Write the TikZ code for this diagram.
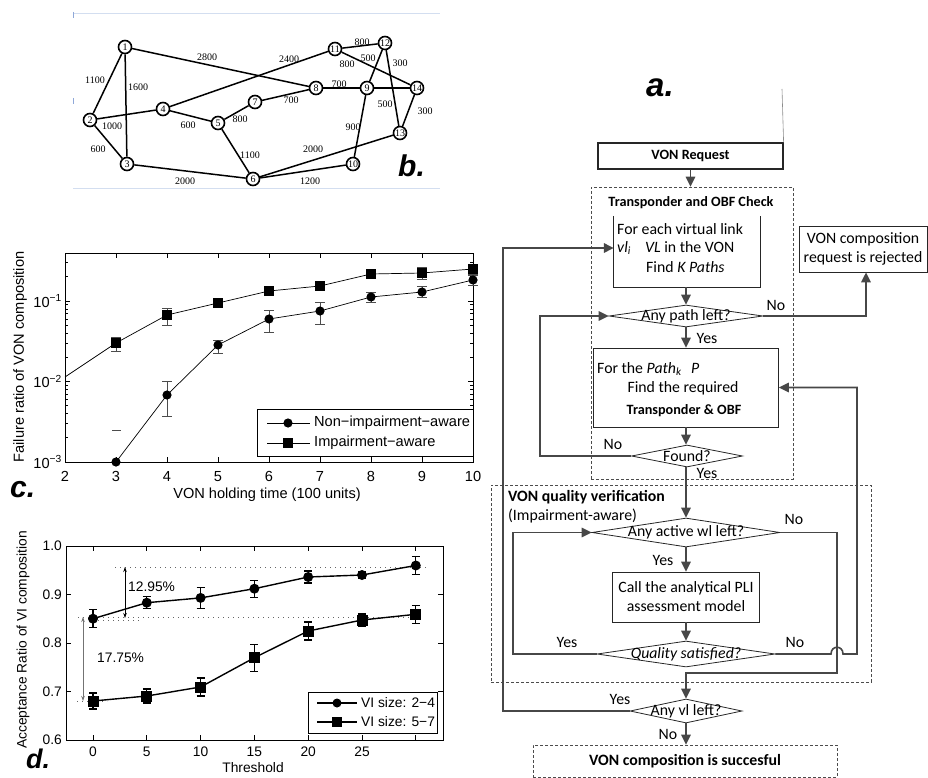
\documentclass[tikz,border=0pt]{standalone}
\usepackage{fontspec}
\setmainfont{Liberation Sans}
\newfontfamily\calib{Carlito}
\newfontfamily\tms{Liberation Serif}
\usetikzlibrary{arrows.meta,shapes.geometric}
\definecolor{fg}{HTML}{474747}
\definecolor{framebl}{HTML}{D3DEF0}
\definecolor{framemk}{HTML}{8FA8D8}
\tikzset{
  fbox/.style={rectangle, draw=black!85, line width=0.8pt, inner sep=0pt},
  dbox/.style={rectangle, draw=black!70, dash pattern=on 3pt off 2pt, line width=0.7pt, inner sep=0pt},
  dia/.style={diamond, draw=black!85, line width=0.8pt, inner sep=0pt, aspect=1},
  flow/.style={draw=fg, line width=1.6pt, -{Triangle[length=10pt,width=9.5pt]}},
  ftxt/.style={font=\calib\fontsize{15.8}{19}\selectfont, inner sep=0pt},
  ftitle/.style={font=\calib\bfseries\fontsize{14.2}{17}\selectfont, inner sep=0pt},
  fbig/.style={font=\calib\bfseries\fontsize{15.8}{19}\selectfont, inner sep=0pt},
  plab/.style={font=\bfseries\itshape\fontsize{30}{32}\selectfont, inner sep=0pt},
  nnode/.style={circle, draw, line width=1.6pt, minimum size=13pt, inner sep=0pt, font=\tms\fontsize{10}{10}\selectfont},
  nedge/.style={line width=1.5pt},
  nlab/.style={font=\tms\fontsize{10}{10}\selectfont, inner sep=0pt},
  axc/.style={line width=0.7pt},
  ebc/.style={line width=0.7pt, draw=black!70},
  ebd/.style={line width=1.3pt},
  dotl/.style={draw=black!60, line width=0.8pt, dash pattern=on 0.8pt off 4.2pt},
}
\begin{document}
\begin{tikzpicture}[x=1pt,y=-1pt]
\useasboundingbox (0,0) rectangle (928,778);

% ================= panel b : network =================
\draw[framebl, line width=0.8pt] (73,13) -- (440,13) (73,188) -- (440,188);
\draw[framemk, line width=0.8pt] (73,12) -- (73,18) (73,98) -- (73,104);
\node[nnode] (n1) at (125,47) {1};
\node[nnode] (n2) at (90,120) {2};
\node[nnode] (n3) at (127,164) {3};
\node[nnode] (n4) at (163,109) {4};
\node[nnode] (n5) at (218,123) {5};
\node[nnode] (n6) at (253,179) {6};
\node[nnode] (n7) at (255,102) {7};
\node[nnode] (n8) at (316,88) {8};
\node[nnode] (n9) at (367,88) {9};
\node[nnode] (n10) at (353,164) {10};
\node[nnode] (n11) at (335,49) {11};
\node[nnode] (n12) at (385,43) {12};
\node[nnode] (n13) at (400,133) {13};
\node[nnode] (n14) at (417,88) {14};
\foreach \a/\b in {1/2,1/3,1/8,2/4,2/3,4/11,4/5,5/7,7/8,5/6,3/6,6/10,6/13,8/9,9/14,9/12,9/10,11/12,11/14,12/13,13/14}
  \draw[nedge] (n\a) -- (n\b);
\foreach \t/\x/\y [count=\k] in {1100/95/80, 1600/138/87, 2800/207/57, 1000/112/126, 600/98/149, 2400/289/59, 600/188/125, 800/240/119, 700/291/100, 1100/250/155, 2000/185/181, 1200/310/181, 2000/313/149, 700/339/84, 800/362/42, 500/368/58, 800/347/64, 300/400/63, 500/385/104, 300/425/111, 900/353/127}
  \node[nlab] (el\k) at (\x,\y) {\t};
\node[plab, anchor=base west] (labb) at (398,177) {b.};

% ================= panel a : flowchart =================
\node[plab, anchor=base west, font=\bfseries\itshape\fontsize{33}{35}\selectfont] (laba) at (646,97) {a.};
\coordinate (gl1) at (782,89);
\node[fbox, line width=1.2pt, minimum width=185pt, minimum height=26pt, ftitle] (req) at (690.5,156) {VON Request};
\draw[draw=black!45, line width=0.6pt] (gl1) -- (req.north east);
\node[dbox, minimum width=202pt, minimum height=292pt] (chk) at (692,333) {};
\node[ftitle] (chkt) at (691,203) {Transponder and OBF Check};
\draw[flow] (req.south) -- (req.south |- chk.north);

\node[minimum width=146pt, minimum height=71pt, inner sep=0pt] (vl) at (687,251.5) {};
\draw[draw=black!85, line width=0.8pt] (vl.north west) -- (vl.south west) -- (vl.south east) -- (vl.north east);
\node[ftxt, anchor=west] (vl1) at (617,229) {For each virtual link};
\node[ftxt, anchor=west] (vl2) at (617,248) {\textit{vl}\textsubscript{\textit{i}}\hspace{0.9em}\textit{VL} in the VON};
\node[ftxt, anchor=west] (vl3) at (646,267) {Find \textit{K Paths}};

\node[dia, minimum width=154pt, minimum height=22pt] (d1) at (686,316) {};
\node[ftxt] (d1t) at (686,316) {Any path left?};
\draw[flow] (vl.south -| d1.north) -- (d1.north);

\node[fbox, minimum width=128pt, minimum height=46pt, align=center, ftxt] (rej) at (863,249) {VON composition\\request is rejected};
\node[ftxt] (no1) at (776,305) {No};
\draw[flow] (d1.east) -| ([xshift=3pt]rej.south);

\node[fbox, minimum width=185pt, minimum height=79pt] (pk) at (686,387.5) {};
\node[ftxt, anchor=west] (pk1) at (597,369) {For the \textit{Path}\textsubscript{\textit{k}}\hspace{0.6em}\textit{P}};
\node[ftxt] (pk2) at (683,388) {Find the required};
\node[ftitle] (pk3) at (684,411) {Transponder \& OBF};
\draw[flow] (d1.south) -- (pk.north);
\node[ftxt] (yes1) at (707,338) {Yes};

\node[dia, minimum width=111pt, minimum height=22pt] (d2) at (687,456) {};
\node[ftxt] (d2t) at (687,456) {Found?};
\draw[flow] (pk.south) -- (pk.south |- d2.north);
\node[ftxt] (no2) at (613,444) {No};
\coordinate (lp1) at (540,456);
\draw[flow] (d2.west) -- (lp1) |- (d1.west);
\node[ftxt] (yes2) at (707,473) {Yes};

\node[dbox, minimum width=380pt, minimum height=197pt] (qv) at (681,583.5) {};
\node[fbig, anchor=west] (qvt) at (508,497) {VON quality verification};
\node[ftxt, anchor=west] (qvs) at (508,516) {(Impairment-aware)};

\node[dia, minimum width=188pt, minimum height=29pt] (d3) at (686,532.5) {};
\node[ftxt] (d3t) at (686,532) {Any active wl left?};
\draw[flow] (d2.south -| d3.north) -- (d3.north);
\node[ftxt] (no3) at (794,519) {No};

\node[fbox, minimum width=147pt, minimum height=50pt, align=center, ftxt] (pli) at (686,597) {Call the analytical PLI\\assessment model};
\draw[flow] (d3.south) -- (pli.north);
\node[ftxt] (yes3) at (663,560) {Yes};

\node[dia, minimum width=178pt, minimum height=26pt] (d4) at (686,654) {};
\node[ftxt] (d4t) at (686,654) {\textit{Quality satisfied?}};
\draw[flow] (pli.south) -- (d4.north);
\node[ftxt] (yes4) at (567,642) {Yes};
\node[ftxt] (no4) at (795,642) {No};
\coordinate (l2) at (513,654);
\draw[flow] (d4.west) -- (l2) |- (d3.west);

\node[dia, minimum width=112pt, minimum height=24pt] (d5) at (686,711) {};
\node[ftxt] (d5t) at (686,711) {Any vl left?};
\coordinate (r1) at (837,532.5);
\coordinate (r2) at (837,673);
\coordinate (r3) at (686,673);
\draw[flow] (d3.east) -- (r1) -- (r2) -- (r3) -- (d5.north);
\coordinate (h1) at (831,654);
\coordinate (h2) at (843,654);
\coordinate (r4) at (857,654);
\draw[flow] (d4.east) -- (h1) .. controls (831,645) and (843,645) .. (h2) -- (r4) |- (pk.east);
\node[ftxt] (yes5) at (620,699) {Yes};
\coordinate (l3) at (503,711);
\draw[flow] (d5.west) -- (l3) |- ([yshift=3.5pt]vl.west);

\node[dbox, minimum width=304pt, minimum height=32pt, fbig] (ok) at (685,761) {VON composition is succesful};
\node[ftxt] (no5) at (668,734) {No};
\draw[flow] (d5.south) -- (d5.south |- ok.north);

% ================= panel c : failure ratio =================
\begin{scope}[font=\fontsize{14.6}{16}\selectfont]
\draw[axc] (65,253) rectangle (473,462);
\foreach \i in {0,...,8} {
  \pgfmathsetmacro\xx{65+51*\i}
  \pgfmathtruncatemacro\lab{2+\i}
  \draw[axc] (\xx,462) -- (\xx,457) (\xx,253) -- (\xx,258);
  \node[anchor=north, inner sep=0pt] (cx\i) at (\xx,471) {\lab};
}
\foreach \yy/\ee [count=\k] in {462/3,381.5/2,301/1} {
  \draw[axc] (65,\yy) -- (70,\yy) (473,\yy) -- (468,\yy);
  \node[anchor=east, inner sep=0pt] (cy\k) at (62,\yy) {10\textsuperscript{−\ee}};
}
\foreach \b in {462,381.5,301} {
  \foreach \m in {2,...,9} {
    \pgfmathsetmacro\yy{\b-80.5*log10(\m)}
    \ifdim\yy pt>254pt
      \draw[line width=0.6pt] (65,\yy) -- (68,\yy) (473,\yy) -- (470,\yy);
    \fi
  }
}
\node[rotate=90, inner sep=0pt] (cyl) at (20,357) {Failure ratio of VON composition};
\node[inner sep=0pt] (cxl) at (267,495) {VON holding time (100 units)};
% error bars
\foreach \x/\lo/\hi in {116/337/351,167/308/325,218/299/307,269/287/295,320/282/290,371/270/278,422/267/279,473/264/274,167/381/416,218/340/353,269/310/332,320/302/324,371/292/302,422/286/297,473/275/285}
  \draw[ebc] (\x-5,\lo) -- (\x+5,\lo) (\x,\lo) -- (\x,\hi) (\x-5,\hi) -- (\x+5,\hi);
\draw[ebc] (112,430) -- (121,430);
% lines
\draw[line width=0.7pt] (65,377) -- (116,343) -- (167,315) -- (218,303) -- (269,291) -- (320,286) -- (371,274) -- (422,273) -- (473,269);
\draw[line width=0.7pt] (116,462) -- (167,395) -- (218,345) -- (269,319) -- (320,311) -- (371,297) -- (422,292) -- (473,280);
\foreach \x/\y in {116/343,167/315,218/303,269/291,320/286,371/274,422/273,473/269}
  \fill (\x-5,\y-5) rectangle (\x+5,\y+5);
\foreach \x/\y in {116/462,167/395,218/345,269/319,320/311,371/297,422/292,473/280}
  \fill (\x,\y) circle[radius=4.6pt];
% legend
\draw[axc, fill=white] (257,409) rectangle (473,456);
\draw[line width=0.7pt] (267,423) -- (310,423);
\fill (288,423) circle[radius=4.6pt];
\node[anchor=west, inner sep=0pt] (cl1) at (314,423) {Non−impairment−aware};
\draw[line width=0.7pt] (267,443) -- (310,443);
\fill (283,438) rectangle (293,448);
\node[anchor=west, inner sep=0pt] (cl2) at (314,443) {Impairment−aware};
\end{scope}
\node[plab, anchor=base west] (labc) at (10,497) {c.};

% ================= panel d : acceptance ratio =================
\begin{scope}[font=\fontsize{13.8}{15}\selectfont]
\draw[axc] (66,546) rectangle (443,740);
\foreach \i in {0,...,6} {
  \pgfmathsetmacro\xx{93+53.8*\i}
  \draw[axc] (\xx,740) -- (\xx,735) (\xx,546) -- (\xx,551);
}
\foreach \i/\t in {0/0,1/5,2/10,3/15,4/20,5/25} {
  \pgfmathsetmacro\xx{93+53.8*\i}
  \node[anchor=north, inner sep=0pt] (dx\i) at (\xx,747) {\t};
}
\foreach \k/\t in {0/0.6,1/0.7,2/0.8,3/0.9,4/1.0} {
  \pgfmathsetmacro\yy{740-48.5*\k}
  \draw[axc] (66,\yy) -- (71,\yy) (443,\yy) -- (438,\yy);
  \node[anchor=east, inner sep=0pt] (dy\k) at (62,\yy) {\t};
}
\node[rotate=90, inner sep=0pt] (dyl) at (23,640) {Acceptance Ratio of VI composition};
\node[inner sep=0pt] (dxl) at (253,768) {Threshold};
% dotted guides and arrows
\draw[dotl] (115,567) -- (427,567);
\draw[dotl] (78,617) -- (422,617);
\draw[dotl] (98,620.5) -- (140,620.5);
\draw[dotl] (77,701) -- (107,701);
\coordinate (a1) at (125,567);
\coordinate (a2) at (125,618);
\draw[line width=0.6pt, {Stealth[length=5pt,width=3.5pt]}-{Stealth[length=5pt,width=3.5pt]}] (a1) -- (a2);
\node[anchor=west, inner sep=0pt] (p1) at (128,587) {12.95\%};
\coordinate (a3) at (83,617);
\coordinate (a4) at (83,701);
\draw[draw=black!55, line width=0.8pt, {Stealth[length=5pt,width=3.5pt]}-{Stealth[length=5pt,width=3.5pt]}] (a3) -- (a4);
\node[anchor=west, inner sep=0pt] (p2) at (97,658) {17.75\%};
% data
\draw[line width=1.4pt] (93,618.7) -- (146.8,602.7) -- (200.6,597.9) -- (254.4,588.7) -- (308.2,577) -- (362,575) -- (415.8,565.5);
\draw[line width=1.4pt] (93,701) -- (146.8,696) -- (200.6,687) -- (254.4,657.7) -- (308.2,631) -- (362,620) -- (415.8,614.3);
\foreach \x/\y/\e in {93/618.7/9,146.8/602.7/6,200.6/597.9/10.5,254.4/588.7/8.5,308.2/577/6,362/575/3.5,415.8/565.5/9} {
  \draw[ebd] (\x-4,\y-\e) -- (\x+4,\y-\e) (\x,\y-\e) -- (\x,\y+\e) (\x-4,\y+\e) -- (\x+4,\y+\e);
  \fill (\x,\y) circle[radius=5pt];
}
\foreach \x/\y/\e in {93/701/8,146.8/696/7,200.6/687/9,254.4/657.7/13.5,308.2/631/9,362/620/6,415.8/614.3/9} {
  \draw[ebd] (\x-4,\y-\e) -- (\x+4,\y-\e) (\x,\y-\e) -- (\x,\y+\e) (\x-4,\y+\e) -- (\x+4,\y+\e);
  \fill (\x-5.5,\y-5.5) rectangle (\x+5.5,\y+5.5);
}
% legend
\draw[axc, fill=white] (308,692) rectangle (437,733);
\draw[line width=1.4pt] (317,703) -- (357,703);
\fill (337,703) circle[radius=4.5pt];
\node[anchor=west, inner sep=0pt] (dl1) at (361,703) {VI size: 2−4};
\draw[line width=1.4pt] (317,722) -- (357,722);
\fill (332,717) rectangle (342,727);
\node[anchor=west, inner sep=0pt] (dl2) at (361,722) {VI size: 5−7};
\end{scope}
\node[plab, anchor=base west, font=\bfseries\itshape\fontsize{27}{29}\selectfont] (labd) at (26,768) {d.};
\end{tikzpicture}
\end{document}
